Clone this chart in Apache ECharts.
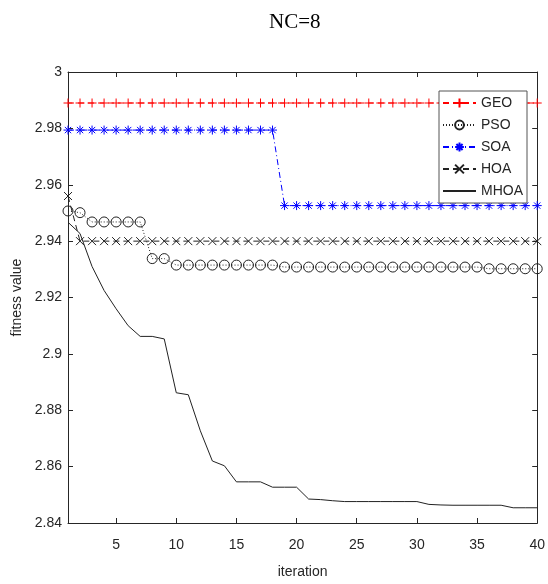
<!DOCTYPE html>
<html>
<head>
<meta charset="utf-8">
<script src="https://cdn.jsdelivr.net/npm/echarts@6/dist/echarts.min.js"></script>
<style>
  html, body { margin: 0; padding: 0; background: #fff; }
  #chart { width: 548px; height: 584px; }
</style>
</head>
<body>
<div id="chart"></div>
<script>
// iterations 1..40
const iterations = Array.from({ length: 40 }, (_, i) => i + 1);

// fitness values
const geo = [
    2.989, 2.989, 2.989, 2.989, 2.989, 2.989, 2.989, 2.989, 2.989, 2.989,
    2.989, 2.989, 2.989, 2.989, 2.989, 2.989, 2.989, 2.989, 2.989, 2.989,
    2.989, 2.989, 2.989, 2.989, 2.989, 2.989, 2.989, 2.989, 2.989, 2.989,
    2.989, 2.989, 2.989, 2.989, 2.989, 2.989, 2.989, 2.989, 2.989, 2.989
];
const pso = [
    2.9507, 2.9501, 2.9468, 2.9468, 2.9468, 2.9468, 2.9468, 2.9338, 2.9338, 2.9315,
    2.9315, 2.9315, 2.9315, 2.9315, 2.9315, 2.9315, 2.9315, 2.9315, 2.9308, 2.9308,
    2.9308, 2.9308, 2.9308, 2.9308, 2.9308, 2.9308, 2.9308, 2.9308, 2.9308, 2.9308,
    2.9308, 2.9308, 2.9308, 2.9308, 2.9308, 2.9302, 2.9302, 2.9302, 2.9302, 2.9302
];
const soa = [
    2.9794, 2.9794, 2.9794, 2.9794, 2.9794, 2.9794, 2.9794, 2.9794, 2.9794, 2.9794,
    2.9794, 2.9794, 2.9794, 2.9794, 2.9794, 2.9794, 2.9794, 2.9794, 2.9526, 2.9526,
    2.9526, 2.9526, 2.9526, 2.9526, 2.9526, 2.9526, 2.9526, 2.9526, 2.9526, 2.9526,
    2.9526, 2.9526, 2.9526, 2.9526, 2.9526, 2.9526, 2.9526, 2.9526, 2.9526, 2.9526
];
const hoa = [
    2.956, 2.940, 2.940, 2.940, 2.940, 2.940, 2.940, 2.940, 2.940, 2.940,
    2.940, 2.940, 2.940, 2.940, 2.940, 2.940, 2.940, 2.940, 2.940, 2.940,
    2.940, 2.940, 2.940, 2.940, 2.940, 2.940, 2.940, 2.940, 2.940, 2.940,
    2.940, 2.940, 2.940, 2.940, 2.940, 2.940, 2.940, 2.940, 2.940, 2.940
];
const mhoa = [
    2.9467, 2.9427, 2.9310, 2.9225, 2.9160, 2.9100, 2.9062, 2.9062, 2.9053, 2.8862,
    2.8855, 2.8727, 2.8620, 2.8603, 2.8546, 2.8546, 2.8546, 2.8527, 2.8527, 2.8527,
    2.8485, 2.8483, 2.8479, 2.8476, 2.8476, 2.8476, 2.8476, 2.8476, 2.8476, 2.8476,
    2.8466, 2.8464, 2.8463, 2.8463, 2.8463, 2.8463, 2.8463, 2.8454, 2.8454, 2.8454
];

const xTicks = [5, 10, 15, 20, 25, 30, 35, 40];

// MATLAB-like markers
const PLUS = 'path://M0,5L10,5M5,0L5,10';
const CROSS = 'path://M0,0L10,10M0,10L10,0';
const STAR = 'path://M0,5L10,5M5,0L5,10M1.5,1.5L8.5,8.5M1.5,8.5L8.5,1.5';

const axisColor = '#262626';
const font = '"Liberation Sans", Arial, sans-serif';

const pairs = ys => iterations.map((x, i) => [x, ys[i]]);

const makeSeries = (name, ys, color, lineType, symbol, size, fill) => ({
    name: name,
    type: 'line',
    data: pairs(ys),
    symbol: symbol,
    symbolSize: size,
    showSymbol: true,
    lineStyle: { color: color, width: 1, type: lineType },
    itemStyle: { color: fill || color, borderColor: color, borderWidth: 1 },
    emphasis: { disabled: true }
});

const chart = echarts.init(document.getElementById('chart'), null, { renderer: 'canvas' });

const option = {
    animation: false,
    backgroundColor: '#fff',
    title: {
        text: 'NC=8',
        left: 264,
        top: 7,
        textStyle: {
            fontFamily: '"Liberation Serif", "Times New Roman", serif',
            fontWeight: 'normal',
            fontSize: 21,
            color: '#000'
        }
    },
    grid: { left: 68, right: 10, top: 72, bottom: 60 },
    legend: {
        orient: 'vertical',
        left: 439,
        top: 91,
        width: 82,
        padding: [5, 4, 5, 3],
        itemGap: 8,
        itemWidth: 33,
        itemHeight: 11,
        backgroundColor: '#fff',
        borderColor: '#555',
        borderWidth: 1,
        borderRadius: 0,
        textStyle: { fontFamily: font, fontSize: 14, color: axisColor },
        data: ['GEO', 'PSO', 'SOA', 'HOA', { name: 'MHOA', itemStyle: { opacity: 0 } }]
    },
    xAxis: [{
        type: 'value',
        min: 1,
        max: 40,
        name: 'iteration',
        nameLocation: 'middle',
        nameGap: 42,
        nameTextStyle: { fontFamily: font, fontSize: 14, color: axisColor },
        axisLine: { show: true, lineStyle: { color: axisColor } },
        axisTick: { show: true, inside: true, length: 5, customValues: xTicks, lineStyle: { color: axisColor } },
        axisLabel: { customValues: xTicks, margin: 15, fontFamily: font, fontSize: 14, color: axisColor },
        splitLine: { show: false }
    }, {
        type: 'value',
        position: 'top',
        min: 1,
        max: 40,
        axisLine: { show: true, lineStyle: { color: axisColor } },
        axisTick: { show: true, inside: true, length: 5, customValues: xTicks, lineStyle: { color: axisColor } },
        axisLabel: { show: false },
        splitLine: { show: false }
    }],
    yAxis: [{
        type: 'value',
        min: 2.84,
        max: 3,
        interval: 0.02,
        name: 'fitness value',
        nameLocation: 'middle',
        nameGap: 37,
        nameTextStyle: { fontFamily: font, fontSize: 14, color: axisColor },
        axisLine: { show: true, lineStyle: { color: axisColor } },
        axisTick: { show: true, inside: true, length: 5, lineStyle: { color: axisColor } },
        axisLabel: {
            margin: 6,
            fontFamily: font,
            fontSize: 14,
            color: axisColor,
            formatter: v => String(parseFloat(v.toFixed(2)))
        },
        splitLine: { show: false }
    }, {
        type: 'value',
        position: 'right',
        min: 2.84,
        max: 3,
        interval: 0.02,
        axisLine: { show: true, lineStyle: { color: axisColor } },
        axisTick: { show: true, inside: true, length: 5, lineStyle: { color: axisColor } },
        axisLabel: { show: false },
        splitLine: { show: false }
    }],
    series: [
        makeSeries('GEO', geo, '#ff0000', [6, 4], PLUS, 9),
        makeSeries('PSO', pso, '#222222', [1, 2], 'circle', 10, 'transparent'),
        makeSeries('SOA', soa, '#0000ff', [6, 3, 1, 3], STAR, 9),
        makeSeries('HOA', hoa, '#222222', [6, 4], CROSS, 8),
        makeSeries('MHOA', mhoa, '#222222', 'solid', 'none', 0)
    ]
};

chart.setOption(option);
</script>
</body>
</html>
